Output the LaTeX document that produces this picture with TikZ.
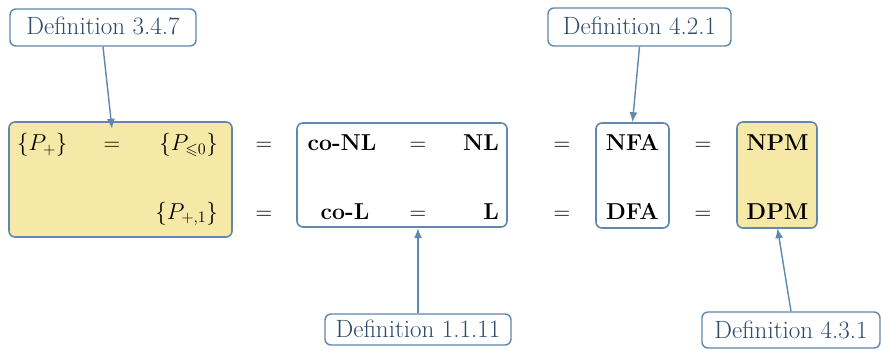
\RequirePackage{fix-cm}
\documentclass[tikz,border=0pt]{standalone}
\usepackage{amssymb}
\usetikzlibrary{arrows.meta}
\definecolor{bordc}{RGB}{95,135,175}
\definecolor{labc}{RGB}{45,72,105}
\definecolor{yel}{RGB}{246,232,166}
\begin{document}
\begin{tikzpicture}[x=1pt,y=-1pt,
  box/.style={draw=bordc, line width=1.6pt, rounded corners=6pt, inner sep=0pt},
  mt/.style={font=\fontsize{23}{28}\selectfont, inner sep=2pt, text height=20pt, text depth=7pt, anchor=base},
  deflab/.style={draw=bordc, line width=1.4pt, rounded corners=6pt, fill=white, text=labc, font=\fontsize{25}{30}\selectfont, inner xsep=0pt, inner ysep=0pt, anchor=base},
  conn/.style={draw=bordc, line width=1.4pt, -{Latex[length=10pt,width=8pt]}}]
\useasboundingbox (0,0) rectangle (881,350);
% boxes
\node[box, fill=yel, minimum width=223pt, minimum height=115pt] (bmain) at (120.5,179.5) {};
\node[box, fill=white, minimum width=210pt, minimum height=104pt] (bl) at (402,175) {};
\node[box, fill=white, minimum width=73pt, minimum height=105pt] (bnfa) at (632.5,175.5) {};
\node[box, fill=yel, minimum width=80pt, minimum height=106pt] (bnpm) at (777,175) {};
% row 1
\node[mt, anchor=base west] (p1) at (15,151) {$\{P_+\}$};
\node[mt] (eq1) at (112,151) {$=$};
\node[mt, anchor=base east] (p2) at (220,151) {$\{P_{\leqslant 0}\}$};
\node[mt] (eq2) at (264,151) {$=$};
\node[mt] (conl) at (342,151) {\textbf{co-NL}};
\node[mt] (eq4) at (418,151) {$=$};
\node[mt, anchor=base east] (nl) at (501,151) {\textbf{NL}};
\node[mt] (eq6) at (562,151) {$=$};
\node[mt] (nfa) at (632.5,151) {\textbf{NFA}};
\node[mt] (eq8) at (703,151) {$=$};
\node[mt] (npm) at (777.5,151) {\textbf{NPM}};
% row 2
\node[mt, anchor=base east] (p3) at (220,219) {$\{P_{+,1}\}$};
\node[mt] (eq3) at (264,219) {$=$};
\node[mt] (col) at (345,219) {\textbf{co-L}};
\node[mt] (eq5) at (418,219) {$=$};
\node[mt, anchor=base east] (l) at (501,219) {\textbf{L}};
\node[mt] (eq7) at (562,219) {$=$};
\node[mt] (dfa) at (632.5,219) {\textbf{DFA}};
\node[mt] (eq9) at (703,219) {$=$};
\node[mt] (dpm) at (777.5,219) {\textbf{DPM}};
% labels
\node[deflab, minimum width=186pt, text height=26pt, text depth=11pt] (d347) at (103,35) {Definition 3.4.7};
\node[deflab, minimum width=183pt, text height=27pt, text depth=11pt] (d421) at (639.5,35) {Definition 4.2.1};
\node[deflab, minimum width=186pt, text height=23pt, text depth=8pt] (d1111) at (418,337) {Definition 1.1.11};
\node[deflab, minimum width=178pt, text height=26pt, text depth=10pt] (d431) at (791,338) {Definition 4.3.1};
% connectors
\draw[conn] (d347.south) -- (eq1.north);
\draw[conn] (d421.south) -- (bnfa.north);
\draw[conn] (d1111.north) -- (eq5.south);
\draw[conn] (d431.north) -- (dpm.south);
\end{tikzpicture}
\end{document}
